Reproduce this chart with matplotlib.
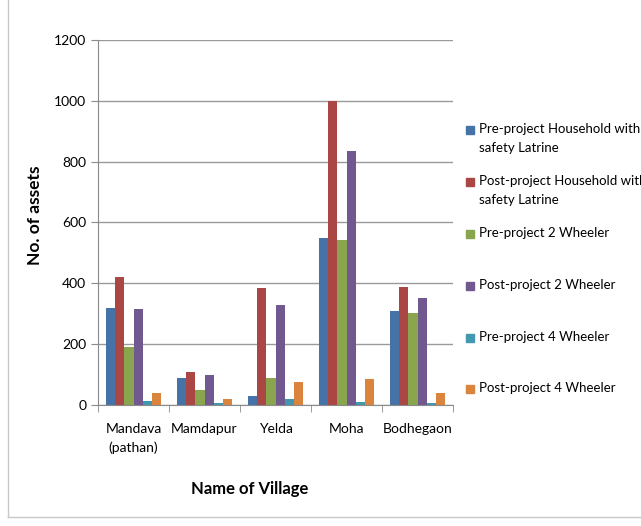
import numpy as np
import matplotlib.pyplot as plt
from matplotlib.patches import Rectangle
from matplotlib.lines import Line2D

villages = ['Mandava\n(pathan)', 'Mamdapur', 'Yelda', 'Moha', 'Bodhegaon']
series = ['Pre-project Household with\nsafety Latrine',
          'Post-project Household with\nsafety Latrine',
          'Pre-project 2 Wheeler',
          'Post-project 2 Wheeler',
          'Pre-project 4 Wheeler',
          'Post-project 4 Wheeler']
pre_latrine = [320, 90, 28, 550, 308]
post_latrine = [420, 110, 385, 1000, 389]
pre_2w = [190, 48, 90, 542, 304]
post_2w = [315, 100, 330, 834, 351]
pre_4w = [13, 6, 20, 11, 5]
post_4w = [40, 20, 75, 85, 38]
colors = ['#4572A7', '#AA4643', '#89A54E', '#71588F', '#4198AF', '#DB843D']

plt.rcParams['font.family'] = ['Lato', 'DejaVu Sans']

fig = plt.figure(figsize=(6.41, 5.26), dpi=100)
ax = fig.add_axes([98/641, 1-405/526, 355/641, 365/526])

data = [pre_latrine, post_latrine, pre_2w, post_2w, pre_4w, post_4w]
x = np.arange(len(villages))
w = 0.128
for i, vals in enumerate(data):
    ax.bar(x + (i - 2.5) * w, vals, w, color=colors[i], zorder=2)

ax.set_xlim(-0.5, len(villages) - 0.5)
ax.set_ylim(0, 1200)
ax.set_yticks(np.arange(0, 1201, 200))
ax.grid(axis='y', color='#9a9a9a', linewidth=1, zorder=0)
ax.set_xticks(x)
ax.set_xticklabels(villages, fontsize=10, linespacing=1.6)
ax.tick_params(axis='x', length=0, pad=13)
ax.set_xticks(np.arange(-0.5, len(villages)), minor=True)
ax.tick_params(axis='x', which='minor', length=5, color='#8a8a8a')
ax.tick_params(axis='y', labelsize=10, length=5, color='#8a8a8a')
for s in ['top', 'right']:
    ax.spines[s].set_visible(False)
for s in ['left', 'bottom']:
    ax.spines[s].set_color('#8a8a8a')

ax.set_ylabel('No. of assets', fontsize=12.5, fontweight='bold')
ax.yaxis.set_label_coords(-0.155, 0.52)
ax.set_xlabel('Name of Village', fontsize=12, fontweight='bold')
ax.xaxis.set_label_coords(0.428, -0.208)

# legend drawn by hand so each entry is evenly spaced
ys = [130, 182, 234, 286, 338, 389]
for i, lab in enumerate(series):
    yf = 1 - ys[i] / 526
    fig.patches.append(Rectangle((466/641, yf - 4/526), 8/641, 8/526,
                                 transform=fig.transFigure, color=colors[i]))
    fig.text(479/641, yf + 7/526, lab, fontsize=9.5, va='top', ha='left',
             linespacing=1.7)

# chart area border
fig.add_artist(Line2D([8/641, 8/641], [1-517/526, 1.0], transform=fig.transFigure,
                      color='#c8c8c8', linewidth=1))
fig.add_artist(Line2D([8/641, 1.0], [1-517/526, 1-517/526], transform=fig.transFigure,
                      color='#c8c8c8', linewidth=1))

fig.savefig('out.png', dpi=100)
